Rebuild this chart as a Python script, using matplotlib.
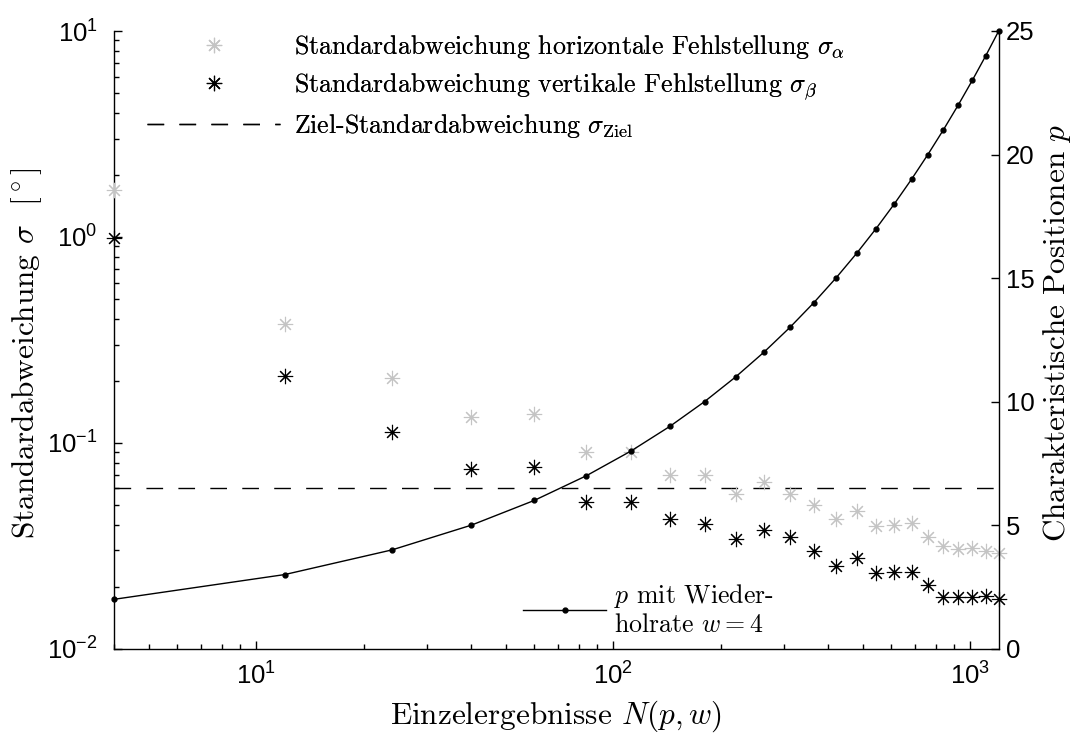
import matplotlib
matplotlib.use("Agg")
import matplotlib.pyplot as plt
from matplotlib.lines import Line2D
from matplotlib.font_manager import FontProperties
from matplotlib.ticker import LogLocator, NullFormatter

# ── Messdaten ─────────────────────────────────────────────────────
# Einzelergebnisse N(p, w) bei Wiederholrate w = 4
N_EINZEL = [4, 12, 24, 40, 60, 84, 112, 144, 180, 220, 264, 312,
            364, 420, 480, 544, 612, 684, 760, 840, 924, 1012, 1104, 1200]
# charakteristische Positionen p
P_POS = [2, 3, 4, 5, 6, 7, 8, 9, 10, 11, 12, 13,
         14, 15, 16, 17, 18, 19, 20, 21, 22, 23, 24, 25]
# Standardabweichungen in Grad
SIGMA_ALPHA = [1.69, 0.378, 0.207, 0.134, 0.138, 0.0906, 0.0906, 0.0698,
               0.0697, 0.0562, 0.0643, 0.0562, 0.0500, 0.0427, 0.0468, 0.0396,
               0.0399, 0.0406, 0.0347, 0.0316, 0.0304, 0.0307, 0.0299, 0.0292]
SIGMA_BETA = [0.985, 0.212, 0.113, 0.0748, 0.0766, 0.0516, 0.0516, 0.0425,
              0.0403, 0.0341, 0.0377, 0.0347, 0.0299, 0.0253, 0.0275, 0.0234,
              0.0237, 0.0235, 0.0204, 0.0179, 0.0179, 0.0179, 0.0180, 0.0174]
SIGMA_ZIEL = 0.06

GRAU = "#c4c4c4"
W, H = 1082, 733

plt.rcParams["font.family"] = "Liberation Sans"
plt.rcParams["mathtext.fontset"] = "cm"

TICK_FS = 18.5
LABEL_FS = 22.5
LEG_FS = 18.6

cm_font = FontProperties(family="cmr10", size=LEG_FS, math_fontfamily="cm")

fig = plt.figure(figsize=(W / 100, H / 100), dpi=100)
ax = fig.add_axes([114.3 / W, 1 - 648.7 / H, 884.4 / W, 617.7 / H])
ax2 = ax.twinx()

ast = (8, 2, 0)
MS, MEW = 11, 0.8

# Standardabweichungen (linke Achse, log)
ax.plot(N_EINZEL, SIGMA_ALPHA, ls="none", marker=ast, ms=MS, mew=MEW,
        color=GRAU, clip_on=False, zorder=3)
ax.plot(N_EINZEL, SIGMA_BETA, ls="none", marker=ast, ms=MS, mew=MEW,
        color="black", clip_on=False, zorder=3)
ax.axhline(SIGMA_ZIEL, color="black", lw=1.0, dashes=(12, 11), zorder=2)

ax.set_xscale("log")
ax.set_yscale("log")
ax.set_xlim(4, 1200)
ax.set_ylim(1e-2, 1e1)

# charakteristische Positionen (rechte Achse)
ax2.plot(N_EINZEL, P_POS, color="black", lw=1.0, marker="o", ms=3.5,
         clip_on=False, zorder=4)
ax2.set_ylim(0, 25)
ax2.set_yticks([0, 5, 10, 15, 20, 25])

# Achsen im MATLAB-Stil
for a in (ax, ax2):
    a.spines["top"].set_visible(False)
    for s in a.spines.values():
        s.set_linewidth(1.0)
ax.spines["right"].set_visible(False)
ax2.spines["left"].set_visible(False)
ax2.spines["bottom"].set_visible(False)

ax.xaxis.set_major_locator(LogLocator(base=10, numticks=10))
ax.xaxis.set_minor_locator(LogLocator(base=10, subs=range(2, 10), numticks=20))
ax.yaxis.set_major_locator(LogLocator(base=10, numticks=10))
ax.yaxis.set_minor_locator(LogLocator(base=10, subs=range(2, 10), numticks=20))
ax.xaxis.set_minor_formatter(NullFormatter())
ax.yaxis.set_minor_formatter(NullFormatter())

ax.tick_params(which="both", direction="in", top=False, right=False,
               width=1.0, labelsize=TICK_FS)
ax.tick_params(which="major", length=6)
ax.tick_params(which="minor", length=3.5)
ax.tick_params(axis="y", pad=12)
ax.tick_params(axis="x", pad=10)
ax2.tick_params(direction="in", length=6, width=1.0, labelsize=TICK_FS, pad=5)

# Beschriftungen
ax.set_xlabel(r"Einzelergebnisse $N(p,w)$", fontfamily="cmr10",
              fontsize=LABEL_FS)
ax.set_ylabel(r"Standardabweichung $\sigma$  $[^\circ]$", fontfamily="cmr10",
              fontsize=LABEL_FS)
ax2.set_ylabel(r"Charakteristische Positionen $p$", fontfamily="cmr10",
               fontsize=LABEL_FS)
ax.xaxis.set_label_coords(0.5, -0.080)
ax.yaxis.set_label_coords(-0.0795, 0.478)
ax2.yaxis.set_label_coords(1.048, 0.512)

# Legenden
h_alpha = Line2D([], [], ls="none", marker=ast, ms=MS, mew=MEW, color=GRAU)
h_beta = Line2D([], [], ls="none", marker=ast, ms=MS, mew=MEW, color="black")
h_ziel = Line2D([], [], color="black", lw=1.0, dashes=(12, 11))
leg1 = ax.legend(
    [h_alpha, h_beta, h_ziel],
    [r"Standardabweichung horizontale Fehlstellung $\sigma_\alpha$",
     r"Standardabweichung vertikale Fehlstellung $\sigma_\beta$",
     r"Ziel-Standardabweichung $\sigma_{\rm Ziel}$"],
    loc="upper left", bbox_to_anchor=(147 / W, 1 - 33 / H),
    bbox_transform=fig.transFigure, frameon=False, prop=cm_font,
    handlelength=133 / (LEG_FS * 100 / 72), handletextpad=0.55,
    labelspacing=0.40, borderpad=0, borderaxespad=0, numpoints=1)
ax.add_artist(leg1)

h_p = Line2D([], [], color="black", lw=1.0, marker="o", ms=3.5)
ax2.legend([h_p], ["$p$ mit Wieder-\nholrate $w=4$"],
           loc="upper left", bbox_to_anchor=(523 / W, 1 - 582 / H),
           bbox_transform=fig.transFigure, frameon=False, prop=cm_font,
           handlelength=83 / (LEG_FS * 100 / 72), handletextpad=0.3,
           borderpad=0, borderaxespad=0, numpoints=1)

fig.savefig("out.png", dpi=100)
